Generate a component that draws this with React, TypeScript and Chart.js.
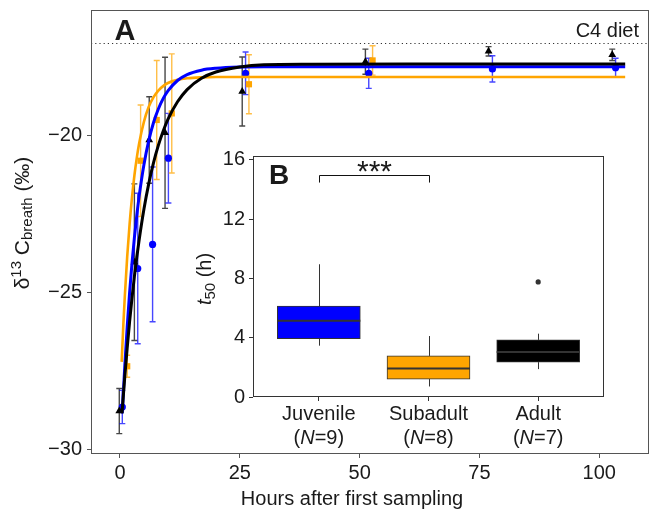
import React, { useEffect, useRef } from 'react';
import { Chart, registerables } from 'chart.js';

Chart.register(...registerables);

const FONT = '"Liberation Sans", Arial, Helvetica, sans-serif';
const TEXT = '#1a1a1a';

// ---------- Panel A: fitted curves ----------
const juvenileCurveHours = [0.48, 1, 1.5, 2, 2.5, 3, 3.5, 4, 5, 6, 7, 8, 9, 10, 12, 14, 17, 20, 25, 30, 40, 60, 80, 105.4];
const juvenileCurveValues = [-28.85, -27.34, -26.1, -25.01, -24.07, -23.25, -22.54, -21.92, -20.91, -20.15, -19.57, -19.14, -18.81, -18.56, -18.23, -18.04, -17.9, -17.84, -17.8, -17.79, -17.79, -17.79, -17.79, -17.79];
const subadultCurveHours = [0.35, 0.7, 1, 1.5, 2, 2.5, 3, 3.5, 4, 5, 6, 7, 8, 9, 10, 12, 14, 17, 20, 25, 30, 40, 60, 80, 105.4];
const subadultCurveValues = [-27.21, -26.02, -25.13, -23.86, -22.82, -21.97, -21.27, -20.7, -20.23, -19.54, -19.07, -18.76, -18.55, -18.41, -18.31, -18.21, -18.16, -18.13, -18.12, -18.12, -18.12, -18.12, -18.12, -18.12, -18.12];
const adultCurveHours = [0.42, 1, 1.5, 2, 2.5, 3, 3.5, 4, 5, 6, 7, 8, 9, 10, 12, 14, 17, 20, 25, 30, 40, 60, 80, 105.4];
const adultCurveValues = [-28.85, -27.68, -26.77, -25.93, -25.18, -24.49, -23.87, -23.31, -22.33, -21.52, -20.85, -20.3, -19.85, -19.47, -18.91, -18.52, -18.16, -17.96, -17.8, -17.73, -17.71, -17.7, -17.7, -17.7];

// ---------- Panel A: observations (mean ± error) ----------
const juvenileHours = [0.48, 3.7, 6.8, 10.1, 26.2, 51.9, 77.7, 103.4];
const juvenileMeans = [-28.65, -24.23, -23.46, -20.71, -18.0, -18.0, -17.86, -17.82];
const juvenileErrors = [0.53, 2.4, 2.47, 1.43, 0.68, 0.48, 0.42, 0.3];

const subadultHours = [1.5, 4.3, 7.66, 10.8, 26.9, 52.7];
const subadultMeans = [-27.35, -20.79, -19.49, -19.28, -18.35, -17.59];
const subadultErrors = [0.35, 1.78, 1.9, 1.9, 0.94, 0.47];

const adultHours = [-0.15, 3.0, 6.1, 9.4, 25.5, 51.2, 76.9, 102.7];
const adultMeans = [-28.78, -24.03, -20.13, -19.9, -18.58, -17.63, -17.3, -17.41];
const adultErrors = [0.72, 2.5, 1.38, 2.41, 1.1, 0.4, 0.15, 0.18];

const c4DietValue = -17.04;
const hourTicks = [0, 25, 50, 75, 100];
const deltaTicks = [-30, -25, -20];

// ---------- Panel B: t50 box plots ----------
const boxCategories = ['Juvenile', 'Subadult', 'Adult'];
const boxN = [9, 8, 7];
const boxMin = [3.46, 0.71, 1.88];
const boxQ1 = [3.93, 1.21, 2.35];
const boxMedian = [5.14, 1.92, 3.04];
const boxQ3 = [6.13, 2.77, 3.85];
const boxMax = [8.95, 4.11, 4.27];
const outlierGroups = [2];
const outlierValues = [7.76];
const t50Ticks = [0, 4, 8, 12, 16];
const sigPair = [0, 1];
const sigLevel = 15.0;
const sigDrop = 0.54;
const sigLabel = '***';

const BLUE = '#0000FF';
const ORANGE = '#FFA500';
const BLACK = '#000000';
const groupColors = [BLUE, ORANGE, BLACK];

type Part = { text: string; size: number; italic?: boolean; bold?: boolean; dy?: number };
const fontOf = (p: Part) => `${p.italic ? 'italic ' : ''}${p.bold ? 'bold ' : ''}${p.size}px ${FONT}`;

function drawParts(ctx: CanvasRenderingContext2D, parts: Part[], cx: number, cy: number, rotation = 0) {
  ctx.save();
  ctx.translate(cx, cy);
  if (rotation) ctx.rotate(rotation);
  ctx.textBaseline = 'alphabetic';
  ctx.textAlign = 'left';
  ctx.fillStyle = TEXT;
  let total = 0;
  const widths = parts.map((p) => {
    ctx.font = fontOf(p);
    const w = ctx.measureText(p.text).width;
    total += w;
    return w;
  });
  let x = -total / 2;
  parts.forEach((p, i) => {
    ctx.font = fontOf(p);
    ctx.fillText(p.text, x, p.dy || 0);
    x += widths[i];
  });
  ctx.restore();
}

const toXY = (xs: number[], ys: number[]) => xs.map((x, i) => ({ x, y: ys[i] }));

const errorSeries = [
  { hours: adultHours, means: adultMeans, errors: adultErrors, color: 'rgba(0,0,0,0.72)' },
  { hours: juvenileHours, means: juvenileMeans, errors: juvenileErrors, color: 'rgba(0,0,255,0.72)' },
  { hours: subadultHours, means: subadultMeans, errors: subadultErrors, color: 'rgba(255,165,0,0.72)' },
];

const panelAPlugin = {
  id: 'panelA',
  beforeDraw(chart: any) {
    const { ctx, width, height } = chart;
    ctx.save();
    ctx.fillStyle = '#ffffff';
    ctx.fillRect(0, 0, width, height);
    ctx.restore();
  },
  beforeDatasetsDraw(chart: any) {
    const { ctx, chartArea } = chart;
    const xs = chart.scales.x;
    const ys = chart.scales.y;
    ctx.save();
    // C4 diet dotted reference
    const yc = Math.round(ys.getPixelForValue(c4DietValue)) + 0.5;
    ctx.strokeStyle = '#333';
    ctx.lineWidth = 1;
    ctx.setLineDash([1.2, 3]);
    ctx.beginPath();
    ctx.moveTo(chartArea.left, yc);
    ctx.lineTo(chartArea.right, yc);
    ctx.stroke();
    ctx.setLineDash([]);
    // error bars
    ctx.lineWidth = 1.4;
    errorSeries.forEach((s) => {
      ctx.strokeStyle = s.color;
      s.hours.forEach((h, i) => {
        const px = xs.getPixelForValue(h);
        const top = ys.getPixelForValue(s.means[i] + s.errors[i]);
        const bot = ys.getPixelForValue(s.means[i] - s.errors[i]);
        ctx.beginPath();
        ctx.moveTo(px, top);
        ctx.lineTo(px, bot);
        ctx.moveTo(px - 3, top);
        ctx.lineTo(px + 3, top);
        ctx.moveTo(px - 3, bot);
        ctx.lineTo(px + 3, bot);
        ctx.stroke();
      });
    });
    ctx.restore();
  },
  afterDraw(chart: any) {
    const { ctx, chartArea } = chart;
    const ys = chart.scales.y;
    ctx.save();
    ctx.strokeStyle = '#555';
    ctx.lineWidth = 1;
    ctx.strokeRect(chartArea.left + 0.5, chartArea.top + 0.5, chartArea.right - chartArea.left - 1, chartArea.bottom - chartArea.top - 1);
    ctx.fillStyle = TEXT;
    ctx.font = `20px ${FONT}`;
    ctx.textAlign = 'right';
    ctx.textBaseline = 'alphabetic';
    ctx.fillText('C4 diet', chartArea.right - 10, ys.getPixelForValue(c4DietValue) - 6);
    ctx.font = `bold 29px ${FONT}`;
    ctx.textAlign = 'center';
    ctx.fillText('A', 125, 39.5);
    ctx.font = `20px ${FONT}`;
    ctx.textBaseline = 'middle';
    ctx.fillText('Hours after first sampling', 352, 499);
    ctx.restore();
    drawParts(
      ctx,
      [
        { text: 'δ', size: 21 },
        { text: '13', size: 15, dy: -8 },
        { text: ' C', size: 21 },
        { text: 'breath', size: 15, dy: 3 },
        { text: ' (‰)', size: 21 },
      ],
      29,
      223,
      -Math.PI / 2
    );
  },
};

const panelBPlugin = {
  id: 'panelB',
  beforeDraw(chart: any) {
    const { ctx, chartArea } = chart;
    ctx.save();
    ctx.fillStyle = '#ffffff';
    ctx.fillRect(chartArea.left, chartArea.top, chartArea.right - chartArea.left, chartArea.bottom - chartArea.top);
    ctx.restore();
  },
  beforeDatasetsDraw(chart: any) {
    const { ctx } = chart;
    const xs = chart.scales.x;
    const ys = chart.scales.y;
    ctx.save();
    ctx.strokeStyle = '#333';
    ctx.lineWidth = 1;
    boxCategories.forEach((_, i) => {
      const px = Math.round(xs.getPixelForValue(i)) + 0.5;
      ctx.beginPath();
      ctx.moveTo(px, ys.getPixelForValue(boxQ3[i]));
      ctx.lineTo(px, ys.getPixelForValue(boxMax[i]));
      ctx.moveTo(px, ys.getPixelForValue(boxQ1[i]));
      ctx.lineTo(px, ys.getPixelForValue(boxMin[i]));
      ctx.stroke();
    });
    ctx.restore();
  },
  afterDatasetsDraw(chart: any) {
    const { ctx, chartArea } = chart;
    const xs = chart.scales.x;
    const ys = chart.scales.y;
    ctx.save();
    // medians
    ctx.strokeStyle = '#333';
    ctx.lineWidth = 2;
    boxCategories.forEach((_, i) => {
      const px = xs.getPixelForValue(i);
      const py = ys.getPixelForValue(boxMedian[i]);
      ctx.beginPath();
      ctx.moveTo(px - 41.5, py);
      ctx.lineTo(px + 41.5, py);
      ctx.stroke();
    });
    // frame
    ctx.lineWidth = 1;
    ctx.strokeRect(chartArea.left + 0.5, chartArea.top + 0.5, chartArea.right - chartArea.left - 1, chartArea.bottom - chartArea.top - 1);
    // significance bracket
    const x0 = Math.round(xs.getPixelForValue(sigPair[0])) + 0.5;
    const x1 = Math.round(xs.getPixelForValue(sigPair[1])) + 0.5;
    const yTop = Math.round(ys.getPixelForValue(sigLevel)) + 0.5;
    const yLow = ys.getPixelForValue(sigLevel - sigDrop);
    ctx.strokeStyle = '#111';
    ctx.beginPath();
    ctx.moveTo(x0, yLow);
    ctx.lineTo(x0, yTop);
    ctx.lineTo(x1, yTop);
    ctx.lineTo(x1, yLow);
    ctx.stroke();
    ctx.fillStyle = TEXT;
    ctx.font = `30px ${FONT}`;
    ctx.textAlign = 'center';
    ctx.textBaseline = 'alphabetic';
    ctx.fillText(sigLabel, (x0 + x1) / 2, yTop + 5);
    ctx.font = `bold 28px ${FONT}`;
    ctx.fillText('B', 279, 183.5);
    // category labels
    ctx.font = `20px ${FONT}`;
    boxCategories.forEach((name, i) => {
      const px = xs.getPixelForValue(i);
      ctx.fillText(name, px, chartArea.bottom + 23);
    });
    ctx.restore();
    boxCategories.forEach((_, i) => {
      const px = xs.getPixelForValue(i);
      drawParts(
        ctx,
        [
          { text: '(', size: 20 },
          { text: 'N', size: 20, italic: true },
          { text: `=${boxN[i]})`, size: 20 },
        ],
        px,
        chartArea.bottom + 47
      );
    });
    drawParts(
      ctx,
      [
        { text: 't', size: 20, italic: true },
        { text: '50', size: 15, dy: 4 },
        { text: ' (h)', size: 20 },
      ],
      211,
      279,
      -Math.PI / 2
    );
  },
};

export default function App() {
  const refA = useRef<HTMLCanvasElement>(null);
  const refB = useRef<HTMLCanvasElement>(null);

  useEffect(() => {
    const chartA = new Chart(refA.current as HTMLCanvasElement, {
      type: 'scatter',
      data: {
        datasets: [
          {
            label: 'Adult fit',
            data: toXY(adultCurveHours, adultCurveValues),
            showLine: true,
            borderColor: BLACK,
            borderWidth: 3,
            pointRadius: 0,
            cubicInterpolationMode: 'monotone',
          } as any,
          {
            label: 'Juvenile fit',
            data: toXY(juvenileCurveHours, juvenileCurveValues),
            showLine: true,
            borderColor: BLUE,
            borderWidth: 3,
            pointRadius: 0,
            cubicInterpolationMode: 'monotone',
          } as any,
          {
            label: 'Subadult fit',
            data: toXY(subadultCurveHours, subadultCurveValues),
            showLine: true,
            borderColor: ORANGE,
            borderWidth: 2.6,
            pointRadius: 0,
            cubicInterpolationMode: 'monotone',
          } as any,
          {
            label: 'Adult',
            data: toXY(adultHours, adultMeans),
            pointStyle: 'triangle',
            pointRadius: 4.5,
            backgroundColor: BLACK,
            borderWidth: 0,
          } as any,
          {
            label: 'Juvenile',
            data: toXY(juvenileHours, juvenileMeans),
            pointStyle: 'circle',
            pointRadius: 3.6,
            backgroundColor: BLUE,
            borderWidth: 0,
          } as any,
          {
            label: 'Subadult',
            data: toXY(subadultHours, subadultMeans),
            pointStyle: 'rect',
            pointRadius: 4.4,
            backgroundColor: ORANGE,
            borderWidth: 0,
          } as any,
        ],
      },
      options: {
        responsive: false,
        animation: false,
        devicePixelRatio: 1,
        events: [],
        layout: { padding: { left: 0, top: 10, right: 5, bottom: 0 } },
        plugins: { legend: { display: false }, tooltip: { enabled: false } },
        scales: {
          x: {
            type: 'linear',
            min: -6.05,
            max: 110.37,
            afterBuildTicks: (s: any) => {
              s.ticks = hourTicks.map((v) => ({ value: v }));
            },
            ticks: { font: { size: 20, family: FONT }, color: TEXT, padding: 3 },
            grid: { drawOnChartArea: false, drawTicks: true, tickLength: 4, color: '#555' },
            border: { display: false },
            afterFit: (s: any) => {
              s.height = 56;
              s.paddingLeft = 0;
              s.paddingRight = 0;
            },
          },
          y: {
            type: 'linear',
            min: -30.15,
            max: -15.98,
            afterBuildTicks: (s: any) => {
              s.ticks = deltaTicks.map((v) => ({ value: v }));
            },
            ticks: {
              font: { size: 20, family: FONT },
              color: TEXT,
              padding: 5,
              callback: (v: any) => String(v).replace('-', '\u2212'),
            },
            grid: { drawOnChartArea: false, drawTicks: true, tickLength: 4, color: '#555' },
            border: { display: false },
            afterFit: (s: any) => {
              s.width = 91;
              s.paddingTop = 0;
              s.paddingBottom = 0;
            },
          },
        },
      } as any,
      plugins: [panelAPlugin],
    });

    const chartB = new Chart(refB.current as HTMLCanvasElement, {
      type: 'bar',
      data: {
        datasets: [
          {
            type: 'bar',
            label: 't50',
            data: boxCategories.map((_, i) => ({ x: i, y: [boxQ1[i], boxQ3[i]] })),
            backgroundColor: groupColors,
            borderColor: '#333',
            borderWidth: 1,
            borderSkipped: false,
            barThickness: 83,
          } as any,
          {
            type: 'scatter',
            label: 'outliers',
            data: toXY(outlierGroups, outlierValues),
            pointRadius: 2.6,
            backgroundColor: '#333',
            borderWidth: 0,
          } as any,
        ],
      },
      options: {
        responsive: false,
        animation: false,
        devicePixelRatio: 1,
        events: [],
        layout: { padding: { left: 200, top: 156, right: 50, bottom: 0 } },
        plugins: { legend: { display: false }, tooltip: { enabled: false } },
        scales: {
          x: {
            type: 'linear',
            min: -0.6,
            max: 2.6,
            offset: false,
            afterBuildTicks: (s: any) => {
              s.ticks = boxCategories.map((_, i) => ({ value: i }));
            },
            ticks: { display: false },
            grid: { offset: false, drawOnChartArea: false, drawTicks: true, tickLength: 4, color: '#333' },
            border: { display: false },
            afterFit: (s: any) => {
              s.height = 113;
              s.paddingLeft = 0;
              s.paddingRight = 0;
            },
          },
          y: {
            type: 'linear',
            min: 0,
            max: 16.25,
            afterBuildTicks: (s: any) => {
              s.ticks = t50Ticks.map((v) => ({ value: v }));
            },
            ticks: { font: { size: 20, family: FONT }, color: TEXT, padding: 4 },
            grid: { drawOnChartArea: false, drawTicks: true, tickLength: 4, color: '#333' },
            border: { display: false },
            afterFit: (s: any) => {
              s.width = 53;
              s.paddingTop = 0;
              s.paddingBottom = 0;
            },
          },
        },
      } as any,
      plugins: [panelBPlugin],
    });

    return () => {
      chartA.destroy();
      chartB.destroy();
    };
  }, []);

  return (
    <div style={{ position: 'absolute', left: 0, top: 0, width: 654, height: 510, background: '#fff' }}>
      <canvas ref={refA} width={654} height={510} style={{ position: 'absolute', left: 0, top: 0 }} />
      <canvas ref={refB} width={654} height={510} style={{ position: 'absolute', left: 0, top: 0 }} />
    </div>
  );
}
